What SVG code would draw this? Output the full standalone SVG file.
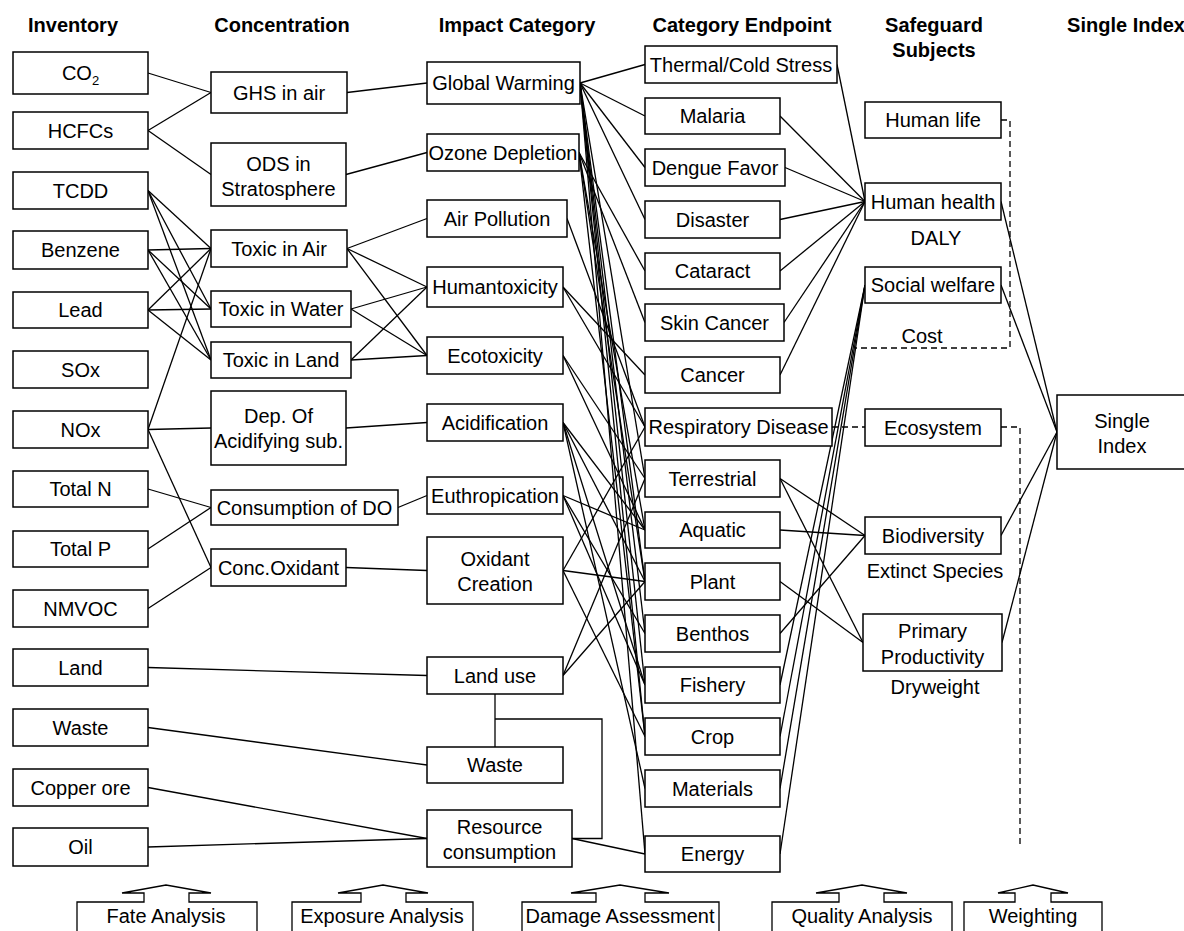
<svg xmlns="http://www.w3.org/2000/svg" width="1184" height="931" viewBox="0 0 1184 931">
<style>
rect{fill:#fff;stroke:#000;stroke-width:1.5}
text{font-family:"Liberation Sans",Arial,sans-serif;font-size:20px;text-anchor:middle;fill:#000}
.h{font-weight:bold}
.c line,.c polyline,.c path{stroke:#000;stroke-width:1.3;fill:none}
.c .d{stroke-dasharray:6 4}
.a path{fill:#fff;stroke:#000;stroke-width:1.3}
</style>
<rect x="0" y="0" width="1184" height="931" style="stroke:none"/>
<g id="headers" class="h">
<text class="h" x="73" y="32">Inventory</text>
<text class="h" x="282" y="32">Concentration</text>
<text class="h" x="517" y="32">Impact Category</text>
<text class="h" x="742" y="32">Category Endpoint</text>
<text class="h" x="934" y="32">Safeguard</text>
<text class="h" x="934" y="57">Subjects</text>
<text class="h" x="1126" y="32">Single Index</text>
</g>
<g id="connectors" class="c">
<line x1="148" y1="73" x2="211" y2="92.5"/>
<line x1="148" y1="130.5" x2="211" y2="92.5"/>
<line x1="148" y1="130.5" x2="211" y2="174.5"/>
<line x1="148" y1="190.5" x2="211" y2="248.5"/>
<line x1="148" y1="190.5" x2="211" y2="309"/>
<line x1="148" y1="190.5" x2="211" y2="360"/>
<line x1="148" y1="250" x2="211" y2="248.5"/>
<line x1="148" y1="250" x2="211" y2="309"/>
<line x1="148" y1="250" x2="211" y2="360"/>
<line x1="148" y1="310" x2="211" y2="248.5"/>
<line x1="148" y1="310" x2="211" y2="309"/>
<line x1="148" y1="310" x2="211" y2="360"/>
<line x1="148" y1="429.5" x2="211" y2="248.5"/>
<line x1="148" y1="429.5" x2="211" y2="428"/>
<line x1="148" y1="429.5" x2="211" y2="567.5"/>
<line x1="148" y1="489" x2="211" y2="507.5"/>
<line x1="148" y1="549" x2="211" y2="507.5"/>
<line x1="148" y1="608.5" x2="211" y2="567.5"/>
<line x1="148" y1="667.5" x2="427" y2="675.5"/>
<line x1="148" y1="727.5" x2="427" y2="765"/>
<line x1="148" y1="787.5" x2="427" y2="838.5"/>
<line x1="148" y1="847" x2="427" y2="838.5"/>
<line x1="347" y1="92.5" x2="427" y2="83"/>
<line x1="346" y1="174.5" x2="427" y2="152.5"/>
<line x1="347" y1="248.5" x2="427" y2="218.5"/>
<line x1="347" y1="248.5" x2="427" y2="287"/>
<line x1="347" y1="248.5" x2="427" y2="355.5"/>
<line x1="351" y1="309" x2="427" y2="287"/>
<line x1="351" y1="309" x2="427" y2="355.5"/>
<line x1="351" y1="360" x2="427" y2="287"/>
<line x1="351" y1="360" x2="427" y2="355.5"/>
<line x1="346" y1="428" x2="427" y2="422.5"/>
<line x1="398" y1="507.5" x2="427" y2="495.5"/>
<line x1="346" y1="567.5" x2="427" y2="570.5"/>
<polyline points="495,694 495,747"/>
<polyline points="495,719 602,719 602,838.5 572,838.5"/>
<line x1="580" y1="83" x2="645" y2="64.5"/>
<line x1="580" y1="83" x2="645" y2="116"/>
<line x1="580" y1="83" x2="645" y2="167.5"/>
<line x1="580" y1="83" x2="645" y2="219.5"/>
<line x1="580" y1="83" x2="645" y2="478.5"/>
<line x1="580" y1="83" x2="645" y2="581.5"/>
<line x1="580" y1="83" x2="645" y2="633.5"/>
<line x1="580" y1="83" x2="645" y2="685"/>
<line x1="580" y1="83" x2="645" y2="736.5"/>
<line x1="580" y1="83" x2="645" y2="854"/>
<line x1="579" y1="152.5" x2="645" y2="271"/>
<line x1="579" y1="152.5" x2="645" y2="322.5"/>
<line x1="579" y1="152.5" x2="645" y2="530"/>
<line x1="579" y1="152.5" x2="645" y2="581.5"/>
<line x1="579" y1="152.5" x2="645" y2="736.5"/>
<line x1="567" y1="218.5" x2="645" y2="427"/>
<line x1="563" y1="287" x2="645" y2="375"/>
<line x1="563" y1="287" x2="645" y2="427"/>
<line x1="563" y1="355.5" x2="645" y2="478.5"/>
<line x1="563" y1="355.5" x2="645" y2="530"/>
<line x1="563" y1="422.5" x2="645" y2="530"/>
<line x1="563" y1="422.5" x2="645" y2="581.5"/>
<line x1="563" y1="422.5" x2="645" y2="685"/>
<line x1="563" y1="422.5" x2="645" y2="788.5"/>
<line x1="563" y1="495.5" x2="645" y2="530"/>
<line x1="563" y1="495.5" x2="645" y2="633.5"/>
<line x1="563" y1="495.5" x2="645" y2="685"/>
<line x1="563" y1="570.5" x2="645" y2="427"/>
<line x1="563" y1="570.5" x2="645" y2="581.5"/>
<line x1="563" y1="570.5" x2="645" y2="736.5"/>
<line x1="563" y1="675.5" x2="645" y2="478.5"/>
<line x1="563" y1="675.5" x2="645" y2="581.5"/>
<line x1="572" y1="838.5" x2="645" y2="854"/>
<line x1="837" y1="64.5" x2="865" y2="201.5"/>
<line x1="780" y1="116" x2="865" y2="201.5"/>
<line x1="785" y1="167.5" x2="865" y2="201.5"/>
<line x1="780" y1="219.5" x2="865" y2="201.5"/>
<line x1="780" y1="271" x2="865" y2="201.5"/>
<line x1="784" y1="322.5" x2="865" y2="201.5"/>
<line x1="780" y1="375" x2="865" y2="201.5"/>
<line x1="780" y1="478.5" x2="865" y2="535.5"/>
<line x1="780" y1="478.5" x2="863" y2="642.5"/>
<line x1="780" y1="530" x2="865" y2="535.5"/>
<line x1="780" y1="581.5" x2="863" y2="642.5"/>
<line x1="780" y1="633.5" x2="865" y2="535.5"/>
<line x1="780" y1="685" x2="865" y2="285"/>
<line x1="780" y1="736.5" x2="865" y2="285"/>
<line x1="780" y1="788.5" x2="865" y2="285"/>
<line x1="780" y1="854" x2="865" y2="285"/>
<line x1="1001" y1="201.5" x2="1057" y2="432"/>
<line x1="1001" y1="285" x2="1057" y2="432"/>
<line x1="1001" y1="535.5" x2="1057" y2="432"/>
<line x1="1002" y1="642.5" x2="1057" y2="432"/>
<polyline class="d" points="1001,120 1010,120 1010,348 855,348"/>
<line class="d" x1="832" y1="427" x2="865" y2="427"/>
<polyline class="d" points="1001,427 1020,427 1020,845"/>
</g>
<g id="n-co2"><rect x="13" y="52" width="135" height="42"/><text x="80.5" y="80">CO<tspan font-size="13" dy="5">2</tspan></text></g>
<g id="n-hcfcs"><rect x="13" y="112" width="135" height="37"/><text x="80.5" y="137.5">HCFCs</text></g>
<g id="n-tcdd"><rect x="13" y="172" width="135" height="37"/><text x="80.5" y="197.5">TCDD</text></g>
<g id="n-benzene"><rect x="13" y="231" width="135" height="38"/><text x="80.5" y="257">Benzene</text></g>
<g id="n-lead"><rect x="13" y="292" width="135" height="36"/><text x="80.5" y="317">Lead</text></g>
<g id="n-sox"><rect x="13" y="351" width="135" height="37"/><text x="80.5" y="376.5">SOx</text></g>
<g id="n-nox"><rect x="13" y="411" width="135" height="37"/><text x="80.5" y="436.5">NOx</text></g>
<g id="n-totaln"><rect x="13" y="471" width="135" height="36"/><text x="80.5" y="496">Total N</text></g>
<g id="n-totalp"><rect x="13" y="531" width="135" height="36"/><text x="80.5" y="556">Total P</text></g>
<g id="n-nmvoc"><rect x="13" y="590" width="135" height="37"/><text x="80.5" y="615.5">NMVOC</text></g>
<g id="n-land"><rect x="13" y="649" width="135" height="37"/><text x="80.5" y="674.5">Land</text></g>
<g id="n-waste-inv"><rect x="13" y="709" width="135" height="37"/><text x="80.5" y="734.5">Waste</text></g>
<g id="n-copper"><rect x="13" y="769" width="135" height="37"/><text x="80.5" y="794.5">Copper ore</text></g>
<g id="n-oil"><rect x="13" y="828" width="135" height="38"/><text x="80.5" y="854">Oil</text></g>
<g id="n-ghs"><rect x="211" y="72" width="136" height="41"/><text x="279" y="99.5">GHS in air</text></g>
<g id="n-ods"><rect x="211" y="143" width="135" height="63"/><text x="278.5" y="171">ODS in</text><text x="278.5" y="196">Stratosphere</text></g>
<g id="n-toxair"><rect x="211" y="230" width="136" height="37"/><text x="279" y="255.5">Toxic in Air</text></g>
<g id="n-toxwater"><rect x="211" y="291" width="140" height="36"/><text x="281" y="316">Toxic in Water</text></g>
<g id="n-toxland"><rect x="211" y="342" width="140" height="36"/><text x="281" y="367">Toxic in Land</text></g>
<g id="n-dep"><rect x="211" y="391" width="135" height="74"/><text x="278.5" y="423">Dep. Of</text><text x="278.5" y="448">Acidifying sub.</text></g>
<g id="n-do"><rect x="211" y="490" width="187" height="35"/><text x="304.5" y="514.5">Consumption of DO</text></g>
<g id="n-concox"><rect x="211" y="549" width="135" height="37"/><text x="278.5" y="574.5">Conc.Oxidant</text></g>
<g id="n-gw"><rect x="427" y="62" width="153" height="42"/><text x="503.5" y="90">Global Warming</text></g>
<g id="n-ozone"><rect x="427" y="134" width="152" height="37"/><text x="503" y="159.5">Ozone Depletion</text></g>
<g id="n-airpol"><rect x="427" y="200" width="140" height="37"/><text x="497" y="225.5">Air Pollution</text></g>
<g id="n-humtox"><rect x="427" y="267" width="136" height="40"/><text x="495" y="294">Humantoxicity</text></g>
<g id="n-ecotox"><rect x="427" y="337" width="136" height="37"/><text x="495" y="362.5">Ecotoxicity</text></g>
<g id="n-acid"><rect x="427" y="404" width="136" height="37"/><text x="495" y="429.5">Acidification</text></g>
<g id="n-eutro"><rect x="427" y="477" width="136" height="37"/><text x="495" y="502.5">Euthropication</text></g>
<g id="n-oxid"><rect x="427" y="537" width="136" height="67"/><text x="495" y="566">Oxidant</text><text x="495" y="591">Creation</text></g>
<g id="n-landuse"><rect x="427" y="657" width="136" height="37"/><text x="495" y="682.5">Land use</text></g>
<g id="n-waste"><rect x="427" y="747" width="136" height="36"/><text x="495" y="772">Waste</text></g>
<g id="n-resource"><rect x="427" y="810" width="145" height="57"/><text x="499.5" y="834">Resource</text><text x="499.5" y="859">consumption</text></g>
<g id="n-thermal"><rect x="645" y="46" width="192" height="37"/><text x="741" y="71.5">Thermal/Cold Stress</text></g>
<g id="n-malaria"><rect x="645" y="98" width="135" height="36"/><text x="712.5" y="123">Malaria</text></g>
<g id="n-dengue"><rect x="645" y="149" width="140" height="37"/><text x="715" y="174.5">Dengue Favor</text></g>
<g id="n-disaster"><rect x="645" y="201" width="135" height="37"/><text x="712.5" y="226.5">Disaster</text></g>
<g id="n-cataract"><rect x="645" y="253" width="135" height="36"/><text x="712.5" y="278">Cataract</text></g>
<g id="n-skin"><rect x="645" y="304" width="139" height="37"/><text x="714.5" y="329.5">Skin Cancer</text></g>
<g id="n-cancer"><rect x="645" y="357" width="135" height="36"/><text x="712.5" y="382">Cancer</text></g>
<g id="n-resp"><rect x="645" y="408" width="187" height="38"/><text x="738.5" y="434">Respiratory Disease</text></g>
<g id="n-terr"><rect x="645" y="460" width="135" height="37"/><text x="712.5" y="485.5">Terrestrial</text></g>
<g id="n-aquatic"><rect x="645" y="512" width="135" height="36"/><text x="712.5" y="537">Aquatic</text></g>
<g id="n-plant"><rect x="645" y="563" width="135" height="37"/><text x="712.5" y="588.5">Plant</text></g>
<g id="n-benthos"><rect x="645" y="615" width="135" height="37"/><text x="712.5" y="640.5">Benthos</text></g>
<g id="n-fishery"><rect x="645" y="667" width="135" height="36"/><text x="712.5" y="692">Fishery</text></g>
<g id="n-crop"><rect x="645" y="718" width="135" height="37"/><text x="712.5" y="743.5">Crop</text></g>
<g id="n-materials"><rect x="645" y="770" width="135" height="37"/><text x="712.5" y="795.5">Materials</text></g>
<g id="n-energy"><rect x="645" y="836" width="135" height="36"/><text x="712.5" y="861">Energy</text></g>
<g id="n-humanlife"><rect x="865" y="102" width="136" height="36"/><text x="933" y="127">Human life</text></g>
<g id="n-humanhealth"><rect x="865" y="183" width="136" height="37"/><text x="933" y="208.5">Human health</text><text x="936" y="245">DALY</text></g>
<g id="n-social"><rect x="865" y="267" width="136" height="36"/><text x="933" y="292">Social welfare</text><text x="922" y="343">Cost</text></g>
<g id="n-ecosystem"><rect x="865" y="409" width="136" height="37"/><text x="933" y="434.5">Ecosystem</text></g>
<g id="n-bio"><rect x="865" y="517" width="136" height="37"/><text x="933" y="542.5">Biodiversity</text><text x="935" y="578">Extinct Species</text></g>
<g id="n-pp"><rect x="863" y="614" width="139" height="57"/><text x="932.5" y="638">Primary</text><text x="932.5" y="664">Productivity</text><text x="935" y="694">Dryweight</text></g>
<g id="n-single"><rect x="1057" y="395" width="132" height="74"/><text x="1122" y="428">Single</text><text x="1122" y="453">Index</text></g>
<g id="steps" class="a">
<g id="s-fate"><path d="M77,940 V902 H144 V893 H122 L166,885 L211,893 H189 V902 H257 V940"/><text x="166" y="923">Fate Analysis</text></g>
<g id="s-exposure"><path d="M292,940 V902 H361 V893 H338 L383,885 L428,893 H406 V902 H473 V940"/><text x="382" y="923">Exposure Analysis</text></g>
<g id="s-damage"><path d="M522,940 V902 H596 V893 H571 L620,885 L669,893 H645 V902 H719 V940"/><text x="620" y="923">Damage Assessment</text></g>
<g id="s-quality"><path d="M772,940 V902 H839 V893 H816 L862,885 L907,893 H884 V902 H952 V940"/><text x="862" y="923">Quality Analysis</text></g>
<g id="s-weight"><path d="M964,940 V902 H1015 V893 H998 L1033,885 L1068,893 H1051 V902 H1102 V940"/><text x="1033" y="923">Weighting</text></g>
</g>
</svg>
